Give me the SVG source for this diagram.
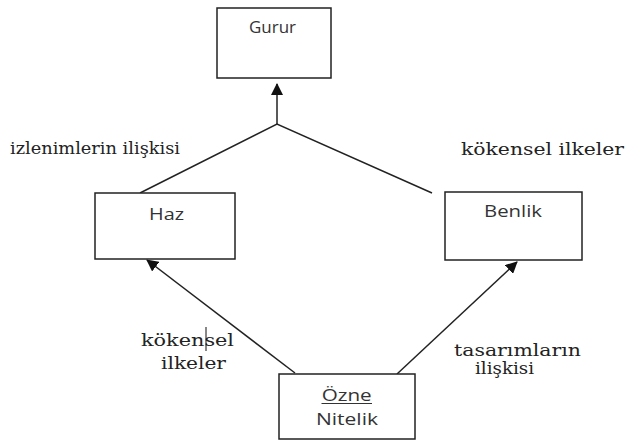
<svg xmlns="http://www.w3.org/2000/svg" width="629" height="441" viewBox="0 0 629 441">
<style>
.box{fill:#fff;stroke:#222;stroke-width:1.5}
.lbl{font-size:16px;fill:#333;text-anchor:middle}
.edge{font-size:16px;fill:#222}
.con{fill:none;stroke:#222;stroke-width:1.5}
</style>
<defs>
<marker id="ah" markerUnits="userSpaceOnUse" markerWidth="12" markerHeight="12" refX="11" refY="6" orient="auto">
<path d="M0,0 L12,6 L0,12 z" fill="#111"/>
</marker>
</defs>
<rect width="629" height="441" fill="#fff"/>
<g id="connectors">
<polyline class="con" points="140,193 277,124 432,193"/>
<line class="con" x1="277" y1="124" x2="277" y2="84" marker-end="url(#ah)"/>
<line class="con" x1="295" y1="373" x2="147" y2="260" marker-end="url(#ah)"/>
<line class="con" x1="397" y1="374" x2="517" y2="262" marker-end="url(#ah)"/>
</g>
<g id="nodes" font-family="Open Sans">
<g id="node-gurur">
<rect class="box" x="217" y="8" width="114" height="70"/>
<text class="lbl" x="272.5" y="33" textLength="47" lengthAdjust="spacingAndGlyphs">Gurur</text>
</g>
<g id="node-haz">
<rect class="box" x="95" y="193" width="140" height="66"/>
<text class="lbl" x="166.5" y="220" textLength="35" lengthAdjust="spacingAndGlyphs">Haz</text>
</g>
<g id="node-benlik">
<rect class="box" x="445" y="192" width="137" height="68"/>
<text class="lbl" x="513" y="217" textLength="58" lengthAdjust="spacingAndGlyphs">Benlik</text>
</g>
<g id="node-ozne">
<rect class="box" x="279" y="374" width="136" height="65"/>
<text class="lbl" x="346.7" y="401" textLength="50" lengthAdjust="spacingAndGlyphs">Özne</text>
<line x1="321.5" y1="403.5" x2="372" y2="403.5" stroke="#333" stroke-width="1"/>
<text class="lbl" x="347" y="425" textLength="62" lengthAdjust="spacingAndGlyphs">Nitelik</text>
</g>
</g>
<g id="labels">
<text class="edge" font-family="DejaVu Serif" x="10" y="154" textLength="170" lengthAdjust="spacingAndGlyphs">izlenimlerin ilişkisi</text>
<text class="edge" font-family="DejaVu Serif" x="461" y="155" textLength="163" lengthAdjust="spacingAndGlyphs">kökensel ilkeler</text>
<text class="edge" font-family="DejaVu Serif" x="141" y="346" textLength="93" lengthAdjust="spacingAndGlyphs">kökensel</text>
<line x1="206" y1="327" x2="206" y2="351" stroke="#111" stroke-width="1"/>
<text class="edge" font-family="DejaVu Serif" x="161" y="369" textLength="65" lengthAdjust="spacingAndGlyphs">ilkeler</text>
<text class="edge" font-family="DejaVu Serif" x="454" y="356" textLength="127" lengthAdjust="spacingAndGlyphs">tasarımların</text>
<text class="edge" font-family="DejaVu Serif" x="475" y="374" textLength="59" lengthAdjust="spacingAndGlyphs">ilişkisi</text>
</g>
</svg>
